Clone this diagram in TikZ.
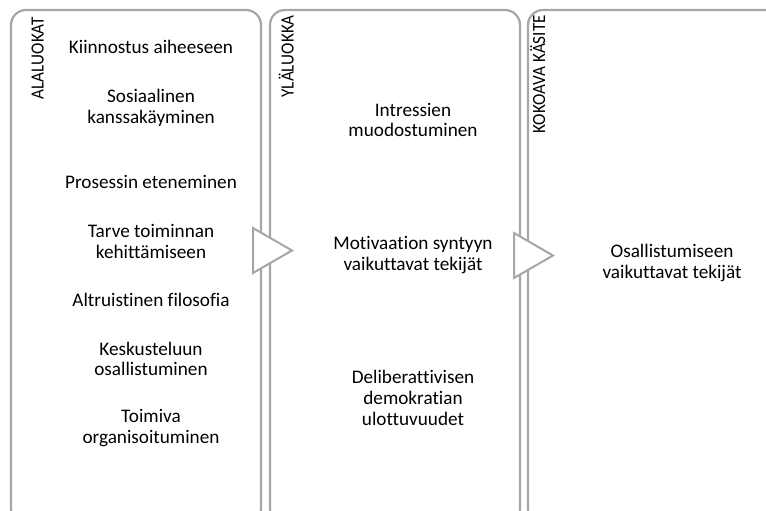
\documentclass[tikz,border=0pt]{standalone}
\usepackage{fontspec}
\setmainfont{Carlito}[Ligatures=NoCommon]
\usetikzlibrary{positioning}
\definecolor{framegray}{RGB}{166,166,166}

\begin{document}
\begin{tikzpicture}[
     x = 1pt,
     y = -1pt,
     every node/.style = {align = center, inner sep = 0pt,
                          font = \fontsize{19.2}{20.8}\selectfont}
    ]
    \tikzstyle{panel}=[draw=framegray, line width=2.2pt, rounded corners=15pt]
    \tikzstyle{pointer}=[draw=framegray, line width=2pt, fill=white]
    \tikzstyle{heading}=[rotate=90, xscale=0.92, anchor=base east,
                         font=\fontsize{18.6}{20}\selectfont]

    \useasboundingbox (0,0) rectangle (766,511);
    \clip (0,0) rectangle (766,511);

    % the three columns
    \draw[panel] (11,10) rectangle (261,524);
    \draw[panel] (270,10) rectangle (520,524);
    \draw[panel] (528,10) rectangle (790,524);

    % pointers between the columns
    \draw[pointer] (253,228) -- (253,273) -- (292,250.5) -- cycle;
    \draw[pointer] (514,233) -- (514,278) -- (553,255.5) -- cycle;

    \node[heading] (alaluokat) at (43.5,17) {ALALUOKAT};
    \node[heading] (ylaluokka) at (293.5,15) {YLÄLUOKKA};
    \node[heading] (kokoava) at (545,15) {KOKOAVA KÄSITE};

    % alaluokat
    \node (kiinnostus) at (151,47) {Kiinnostus aiheeseen};
    \node[below of = kiinnostus, node distance = 60.5pt] (sosiaalinen)
      {Sosiaalinen\\kanssakäyminen};
    \node[below of = sosiaalinen, node distance = 74.5pt] (prosessi)
      {Prosessin eteneminen};
    \node[below of = prosessi, node distance = 59.5pt] (tarve)
      {Tarve toiminnan\\kehittämiseen};
    \node[below of = tarve, node distance = 58.5pt] (altruismi)
      {Altruistinen filosofia};
    \node[below of = altruismi, node distance = 59pt] (keskustelu)
      {Keskusteluun\\osallistuminen};
    \node[below of = keskustelu, node distance = 69pt] (toimiva)
      {Toimiva\\organisoituminen};

    % ylaluokka
    \node (intressi) at (413,120) {Intressien\\muodostuminen};
    \node[below of = intressi, node distance = 135pt] (motivaatio)
      {Motivaation syntyyn\\vaikuttavat tekijät};
    \node[below of = motivaatio, node distance = 143pt] (demokratia)
      {Deliberattivisen\\demokratian\\ulottuvuudet};

    % kokoava kasite
    \node (osallistuminen) at (672,263) {Osallistumiseen\\vaikuttavat tekijät};
   \end{tikzpicture}
\end{document}
